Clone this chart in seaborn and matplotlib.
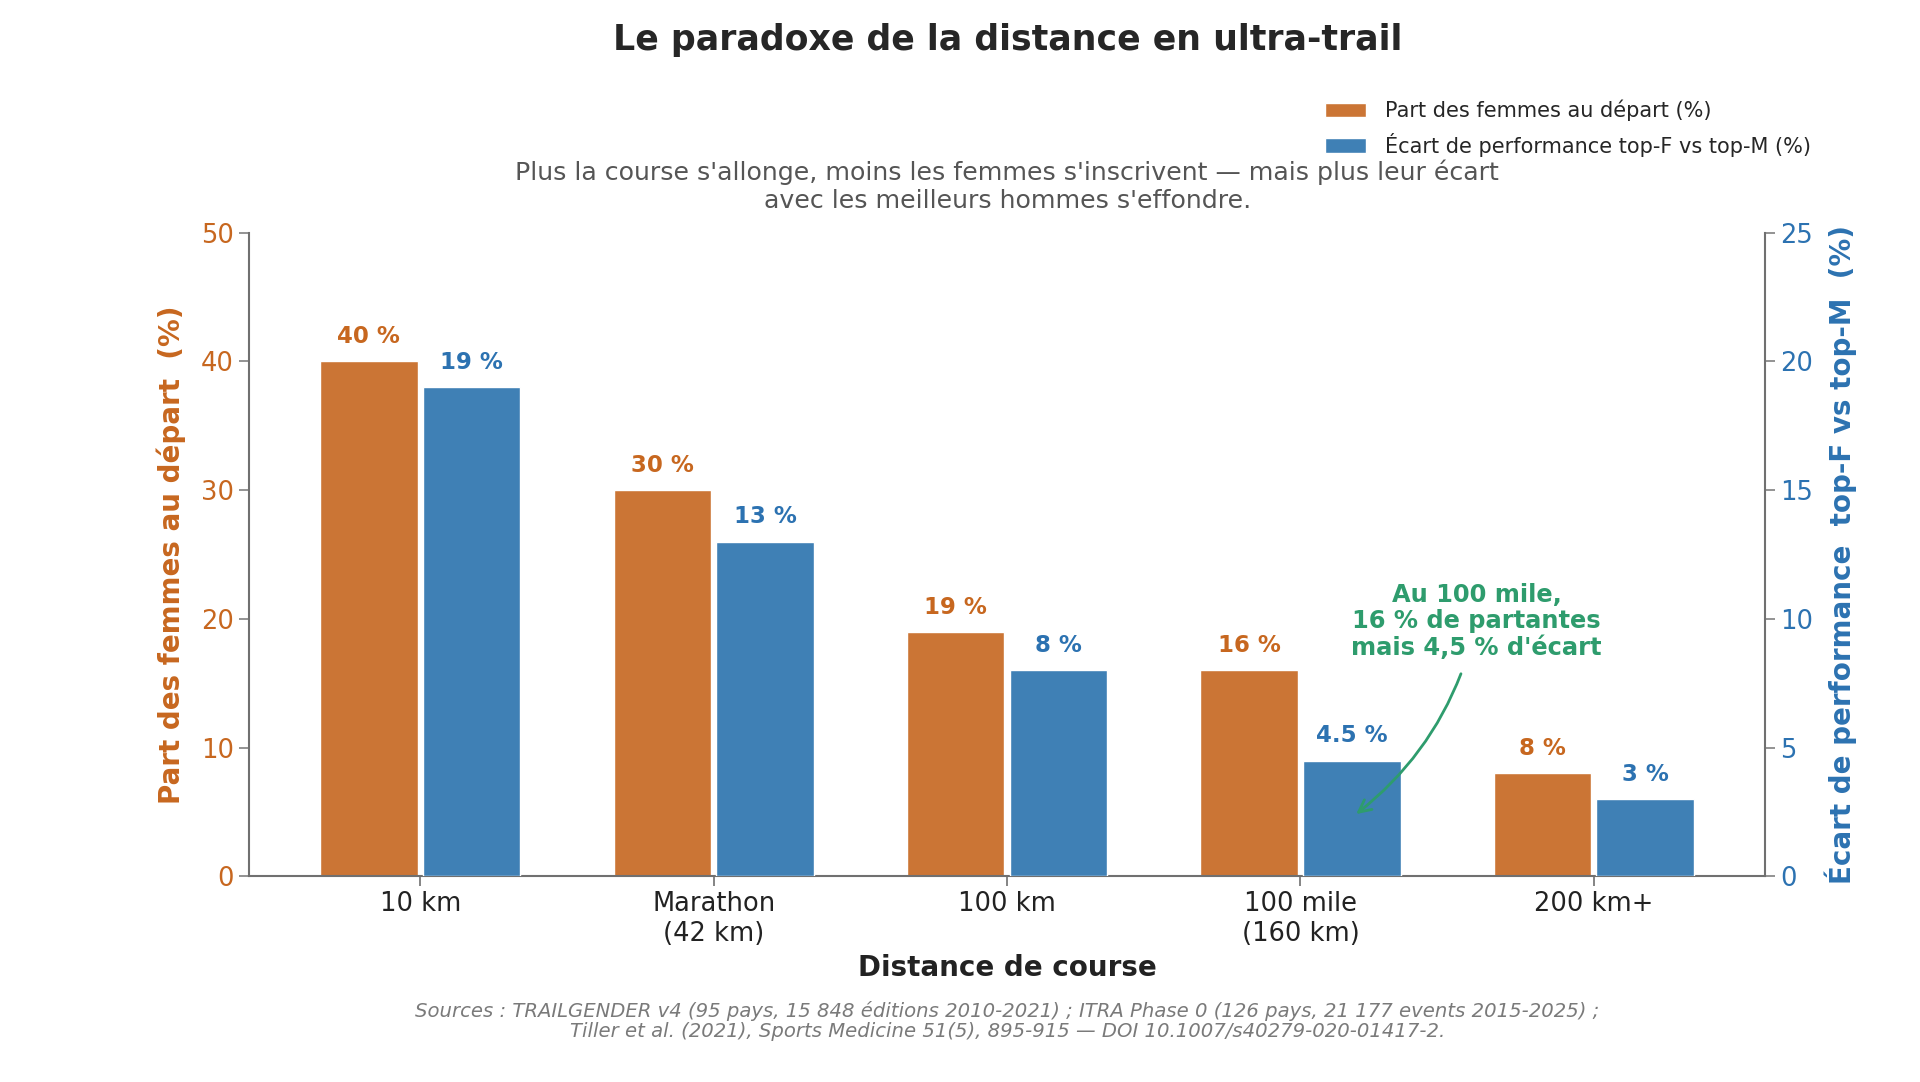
import matplotlib
matplotlib.use("Agg")
import matplotlib.pyplot as plt
import seaborn as sns
import pandas as pd
from matplotlib.patches import Patch

# ---- data ----
categories = ["10 km", "Marathon\n(42 km)", "100 km", "100 mile\n(160 km)", "200 km+"]
part_femmes = [40, 30, 19, 16, 8]
ecart_perf = [19, 13, 8, 4.5, 3]
labels_femmes = ["40 %", "30 %", "19 %", "16 %", "8 %"]
labels_ecart = ["19 %", "13 %", "8 %", "4.5 %", "3 %"]
series = ["Part des femmes au départ (%)", "Écart de performance top-F vs top-M (%)"]

ORANGE = "#CB7535"
BLUE = "#3F80B5"
ORANGE_T = "#C7671F"
BLUE_T = "#2C72B1"
GREEN = "#2E9C6D"

sns.set_theme(style="white")
plt.rcParams["font.family"] = ["DejaVu Sans"]

df1 = pd.DataFrame({"cat": categories, "val": part_femmes, "serie": series[0]})
df2 = pd.DataFrame({"cat": categories, "val": ecart_perf, "serie": series[1]})

fig = plt.figure(figsize=(19.2, 10.82), dpi=100)
ax = fig.add_axes([0.1295, 0.19, 0.790, 0.595])
ax2 = ax.twinx()

pal = {series[0]: ORANGE, series[1]: BLUE}
sns.barplot(data=df1, x="cat", y="val", hue="serie", hue_order=series, order=categories,
            palette=pal, saturation=1, dodge=True, width=0.70, gap=0.05, ax=ax,
            edgecolor="white", linewidth=1, legend=False)
sns.barplot(data=df2, x="cat", y="val", hue="serie", hue_order=series, order=categories,
            palette=pal, saturation=1, dodge=True, width=0.70, gap=0.05, ax=ax2,
            edgecolor="white", linewidth=1, legend=False)

ax.set_xlim(-0.585, 4.585)
ax.set_ylim(0, 50)
ax2.set_ylim(0, 25)
ax.set_yticks([0, 10, 20, 30, 40, 50])
ax2.set_yticks([0, 5, 10, 15, 20, 25])

for c in ax.containers:
    if len(c) and c[0].get_height() > 0:
        ax.bar_label(c, labels=labels_femmes, padding=9.5, color=ORANGE_T,
                     fontsize=16.5, fontweight="bold")
for c in ax2.containers:
    if len(c) and c[0].get_height() > 0:
        ax2.bar_label(c, labels=labels_ecart, padding=9.5, color=BLUE_T,
                      fontsize=16.5, fontweight="bold")

# spines & ticks
for a in (ax, ax2):
    a.spines["top"].set_visible(False)
    for s in ("left", "right", "bottom"):
        a.spines[s].set_color("#707070")
        a.spines[s].set_linewidth(1.5)
ax.spines["right"].set_visible(False)
ax2.spines["left"].set_visible(False)
ax2.spines["bottom"].set_visible(False)

ax.tick_params(axis="y", colors="#808080", length=7, width=1.2, left=True)
ax.tick_params(axis="y", labelcolor=ORANGE_T, labelsize=18.5)
ax2.tick_params(axis="y", colors="#808080", length=7, width=1.2, right=True)
ax2.tick_params(axis="y", labelcolor=BLUE_T, labelsize=18.5)
ax.tick_params(axis="x", colors="#707070", length=7, width=1.2, bottom=True)
ax.tick_params(axis="x", labelcolor="#222222", labelsize=18.5)

ax.set_xlabel("Distance de course", fontsize=20, fontweight="bold", color="#222222", labelpad=5)
ax.set_ylabel("Part des femmes au départ  (%)", fontsize=20, fontweight="bold",
              color=ORANGE_T, labelpad=11)
ax2.set_ylabel("Écart de performance  top-F vs top-M  (%)", fontsize=20, fontweight="bold",
               color=BLUE_T, labelpad=8)
ax2.set_xlabel("")
ax.grid(False)
ax2.grid(False)

# annotation
ax2.annotate("Au 100 mile,\n16 % de partantes\nmais 4,5 % d'écart",
             xy=(3.19, 2.42), xytext=(3.60, 9.9),
             ha="center", va="center", fontsize=17.4, fontweight="bold", color=GREEN,
             linespacing=1.12,
             arrowprops=dict(arrowstyle="->", color=GREEN, lw=2.0,
                             connectionstyle="arc3,rad=-0.18",
                             shrinkA=8, shrinkB=0, mutation_scale=22))

# legend
handles = [Patch(facecolor=ORANGE, edgecolor="white"), Patch(facecolor=BLUE, edgecolor="white")]
fig.legend(handles, series, loc="upper right", bbox_to_anchor=(0.953, 0.925),
           frameon=False, fontsize=15, handlelength=2.0, handleheight=0.7,
           labelspacing=0.55, handletextpad=0.9)

# titles
fig.text(0.5246, 0.963, "Le paradoxe de la distance en ultra-trail", ha="center", va="center",
         fontsize=25, fontweight="bold", color="#262626")
fig.text(0.5246, 0.828, "Plus la course s'allonge, moins les femmes s'inscrivent — mais plus leur écart\n"
         "avec les meilleurs hommes s'effondre.", ha="center", va="center",
         fontsize=18.2, color="#555555", linespacing=1.2)

fig.text(0.5246, 0.0566, "Sources : TRAILGENDER v4 (95 pays, 15 848 éditions 2010-2021) ; "
         "ITRA Phase 0 (126 pays, 21 177 events 2015-2025) ;\n"
         "Tiller et al. (2021), Sports Medicine 51(5), 895-915 — DOI 10.1007/s40279-020-01417-2.",
         ha="center", va="center", fontsize=14.1, style="italic", color="#7a7a7a",
         linespacing=1.1)

fig.savefig("out.png", dpi=100, facecolor="white")
